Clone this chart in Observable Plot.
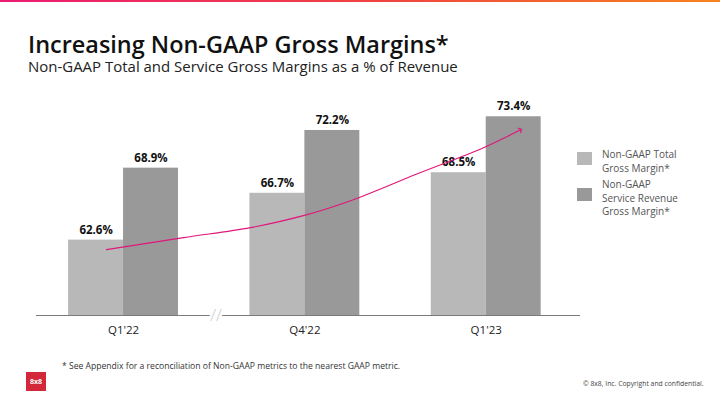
<!DOCTYPE html>
<html>
<head>
<meta charset="utf-8">
<script src="https://cdn.jsdelivr.net/npm/d3@7"></script>
<script src="https://cdn.jsdelivr.net/npm/@observablehq/plot@0.6"></script>
<style>
  html, body { margin: 0; padding: 0; background: #fff; }
  body { width: 720px; height: 405px; position: relative; overflow: hidden; font-family: "Open Sans", sans-serif; }
  #topbar { position: absolute; left: 0; top: 0; width: 720px; height: 2px; background: linear-gradient(to right, #ec1a73, #f0463f 55%, #f7831e); }
  #title { position: absolute; left: 28px; top: 32px; font-size: 22px; line-height: 24px; font-weight: 600; color: #111; white-space: nowrap; }
  #subtitle { position: absolute; left: 28px; top: 58px; font-size: 14px; line-height: 16px; font-weight: 400; color: #222; white-space: nowrap; }
  #chart { position: absolute; left: 0; top: 80px; }
  .legend { position: absolute; left: 577px; font-size: 10px; color: #555; line-height: 13.5px; }
  .legend .sw { position: absolute; left: 0; width: 15px; height: 13px; }
  .legend .tx { position: absolute; left: 25px; white-space: nowrap; }
  #foot { position: absolute; left: 62px; top: 361px; font-size: 8.6px; line-height: 11px; color: #333; white-space: nowrap; }
  #logo { position: absolute; left: 26px; top: 372px; width: 20px; height: 19px; background: #d2283a; color: #fff; font-size: 7px; font-weight: 700; text-align: center; line-height: 19px; }
  #copy { position: absolute; left: 583px; top: 380px; font-size: 6.8px; line-height: 8px; color: #444; white-space: nowrap; }
</style>
</head>
<body>
<div id="topbar"></div>
<div id="title">Increasing Non-GAAP Gross Margins*</div>
<div id="subtitle">Non-GAAP Total and Service Gross Margins as a % of Revenue</div>
<div id="chart"></div>
<div class="legend" id="leg1" style="top:150px;">
  <div class="sw" style="top:2px;background:#b8b8b8;"></div>
  <div class="tx" style="top:-2px;">Non-GAAP Total<br>Gross Margin*</div>
</div>
<div class="legend" id="leg2" style="top:188px;">
  <div class="sw" style="top:0px;background:#999999;"></div>
  <div class="tx" style="top:-10px;">Non-GAAP<br>Service Revenue<br>Gross Margin*</div>
</div>
<div id="foot">* See Appendix for a reconciliation of Non-GAAP metrics to the nearest GAAP metric.</div>
<div id="logo">8x8</div>
<div id="copy">© 8x8, Inc. Copyright and confidential.</div>
<script>
const categories = ["Q1'22", "Q4'22", "Q1'23"];
const totalMargin = [62.6, 66.7, 68.5];
const serviceMargin = [68.9, 72.2, 73.4];
const seriesNames = ["Non-GAAP Total Gross Margin*", "Non-GAAP Service Revenue Gross Margin*"];
const seriesColors = ["#b8b8b8", "#999999"];
// trend arrow path, in (category index, % value) space
const trendX = [-0.094, 0.331, 0.700, 0.992, 1.252, 1.621, 1.985, 2.189];
const trendY = [61.77, 62.82, 63.69, 64.74, 66.05, 68.41, 70.69, 72.26];
const axisBreakAt = 0.51;

const yMin = 56, yMax = 75.7;
const barW = 0.303;

const rows = [];
categories.forEach((c, i) => {
  rows.push({i, s: 0, value: totalMargin[i], series: seriesNames[0]});
  rows.push({i, s: 1, value: serviceMargin[i], series: seriesNames[1]});
});
const trend = trendX.map((x, k) => ({x, y: trendY[k]}));

const plot = Plot.plot({
  width: 720,
  height: 265,
  marginLeft: 36,
  marginRight: 140,
  marginTop: 10,
  marginBottom: 30,
  style: {fontFamily: "Open Sans, sans-serif", background: "transparent"},
  x: {type: "linear", domain: [-0.48, 2.52], axis: null},
  y: {domain: [yMin, yMax], axis: null},
  color: {domain: seriesNames, range: seriesColors},
  marks: [
    Plot.rectY(rows, {
      x1: d => d.s === 0 ? d.i - barW : d.i,
      x2: d => d.s === 0 ? d.i : d.i + barW,
      y1: yMin, y2: "value", fill: "series"
    }),
    Plot.ruleY([yMin], {stroke: "#7a7a7a", strokeWidth: 1}),
    Plot.text([axisBreakAt], {x: d => d, y: yMin, text: () => "//", fontSize: 17, fill: "#cacaca", stroke: "white", strokeWidth: 5, fontWeight: 300}),
    Plot.axisX({ticks: [0, 1, 2], tickFormat: i => categories[i], tickSize: 0, tickPadding: 10, fontSize: 11.5, color: "#222", label: null}),
    Plot.text(rows, {
      x: d => d.s === 0 ? d.i - barW / 2 : d.i + barW / 2,
      y: "value", text: d => d.value.toFixed(1) + "%",
      dy: -10, fontSize: 11.5, fontWeight: 700, fill: "#111"
    }),
    Plot.line(trend, {x: "x", y: "y", curve: "catmull-rom", stroke: "#e0177a", strokeWidth: 1.2, markerEnd: "arrow"})
  ]
});
document.getElementById("chart").appendChild(plot);

// scale heading font sizes so the texts span the reference widths
function fitWidth(id, target) {
  const el = document.getElementById(id);
  const w = el.getBoundingClientRect().width;
  const fs = parseFloat(getComputedStyle(el).fontSize);
  el.style.fontSize = (fs * target / w).toFixed(2) + "px";
}
fitWidth("title", 421);
fitWidth("subtitle", 430);
</script>
</body>
</html>
